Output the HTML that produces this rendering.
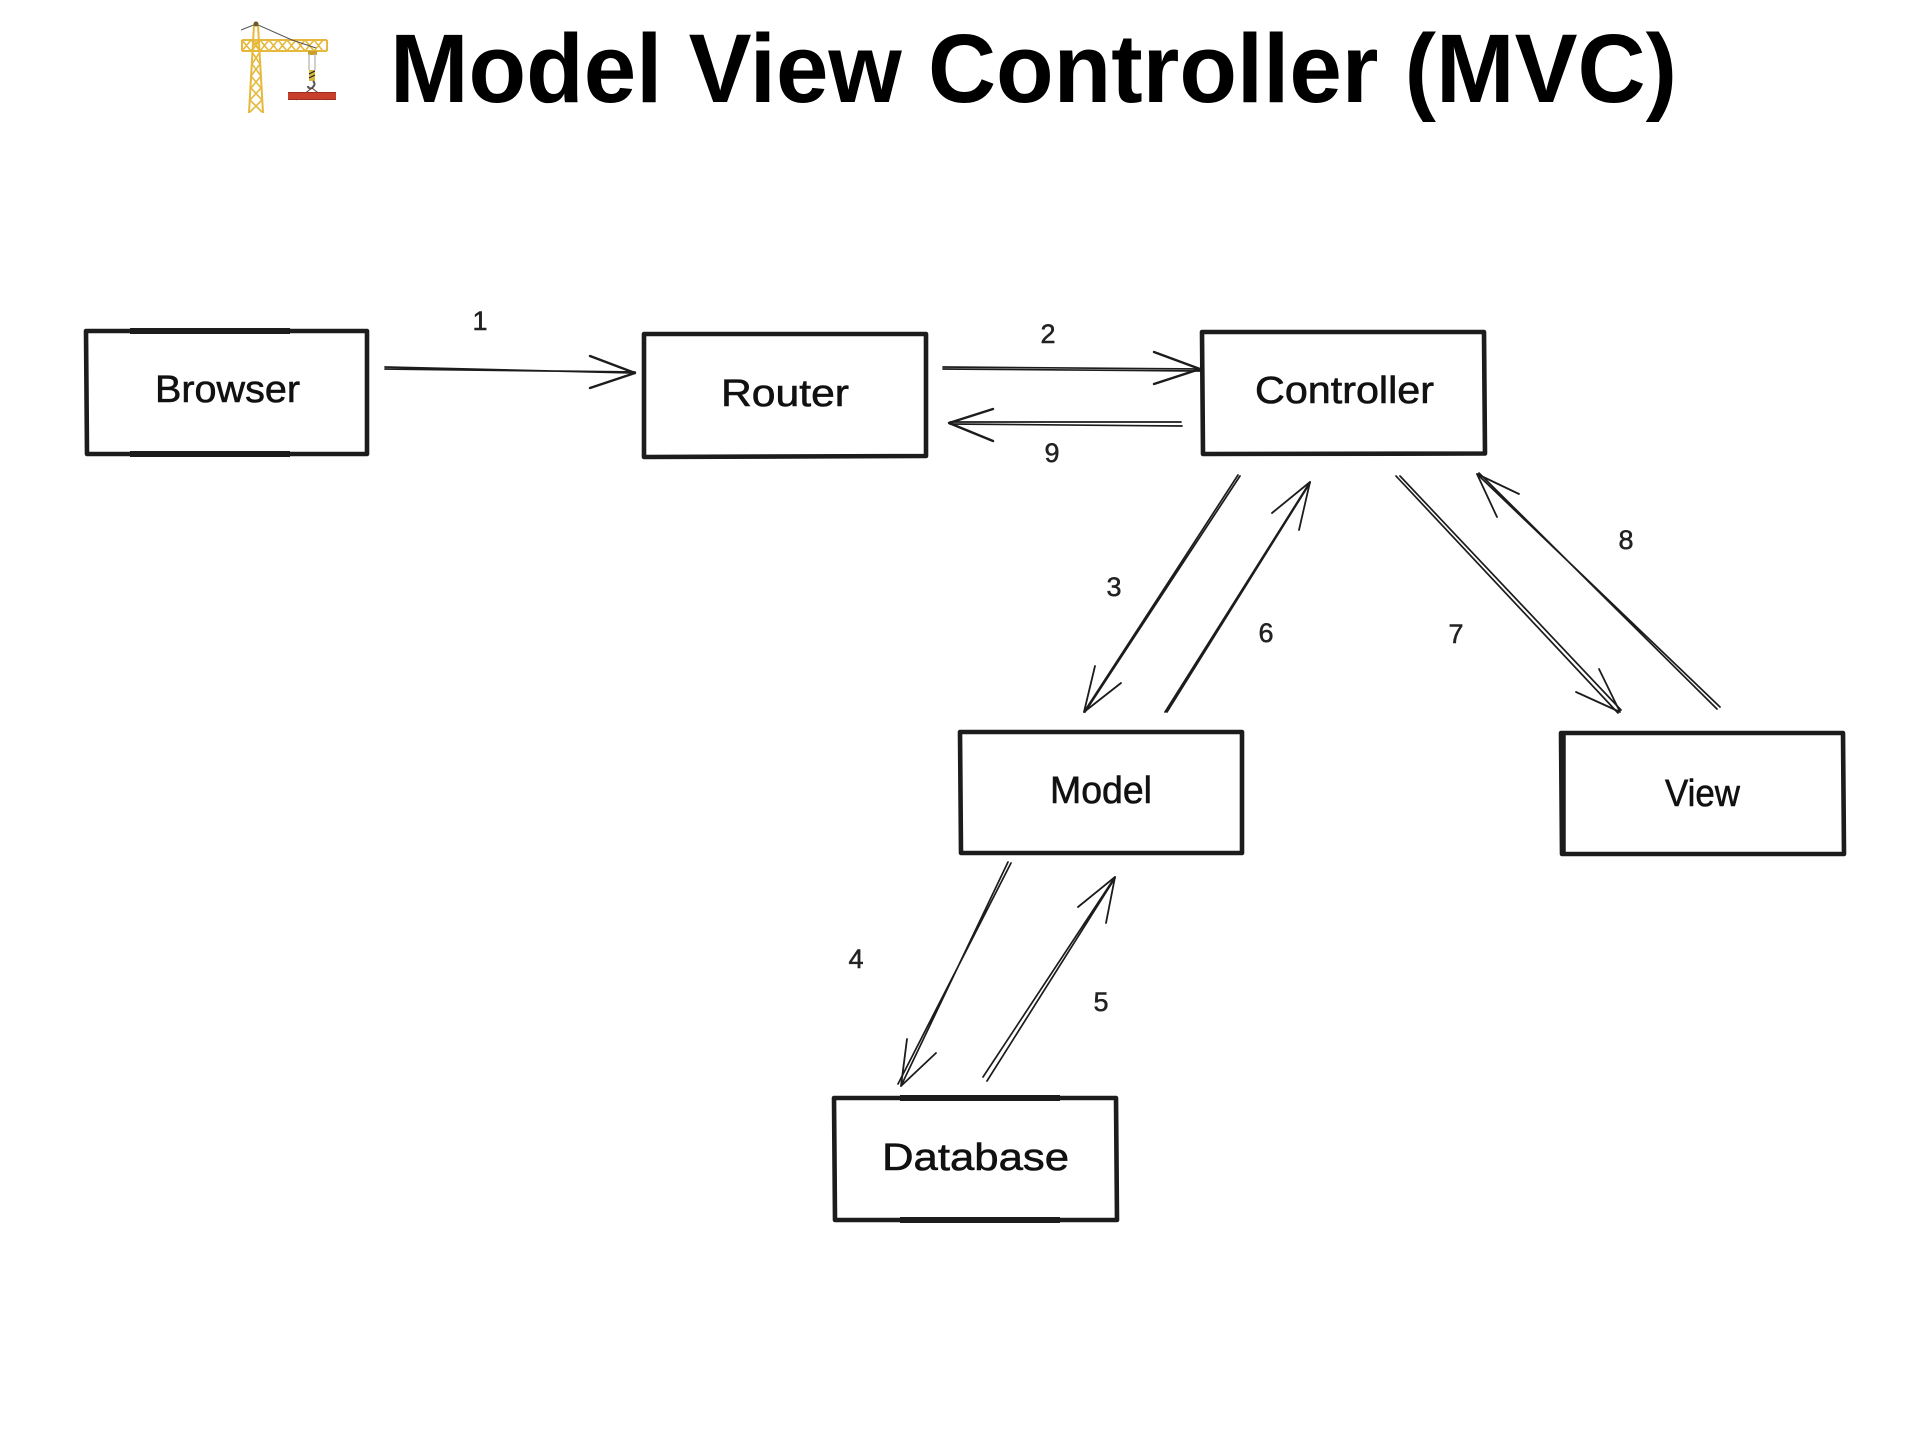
<!DOCTYPE html>
<html><head><meta charset="utf-8"><title>Model View Controller (MVC)</title>
<style>
html,body{margin:0;padding:0;background:#fff}
svg{display:block}
.b{fill:none;stroke:#1c1c1c;stroke-width:4.6;stroke-linejoin:round;stroke-linecap:round}
.l{fill:none;stroke:#1c1c1c;stroke-width:1.7;stroke-linecap:round;stroke-linejoin:round}
.h{fill:none;stroke:#1c1c1c;stroke-width:2.4;stroke-linecap:round;stroke-linejoin:round}
.t{font-family:"Liberation Sans",sans-serif;font-size:38px;fill:#111;stroke:#111;stroke-width:.6;text-anchor:start}
.n{font-family:"Liberation Sans",sans-serif;font-size:27px;fill:#222;stroke:#222;stroke-width:.5;text-anchor:middle}
</style></head><body>
<svg width="1920" height="1440" viewBox="0 0 1920 1440" xmlns="http://www.w3.org/2000/svg">
<rect width="1920" height="1440" fill="#fff"/>
<text x="390" y="102" font-family="'Liberation Sans',sans-serif" font-weight="700" font-size="97" fill="#000" textLength="1287" lengthAdjust="spacingAndGlyphs">Model View Controller (MVC)</text>

<!-- crane -->
<g fill="none" stroke="#e6b93c" stroke-width="1.6">
<path d="M249 113L254 25M263 113L258 25" stroke-width="2"/>
<path d="M250 112L262 100L251 88L261 76L252 64L260 52L254 40M262 112L250 100L261 88L251 76L260 64L252 52L258 40"/>
<path d="M242 40H327M242 51H327M242 40V51M327 40V51" stroke-width="2"/>
<path d="M242 40l9 11l9-11l9 11l9-11l9 11l9-11l9 11l9-11l9 11M242 51l9-11l9 11l9-11l9 11l9-11l9 11l9-11l9 11l9-11"/>
</g>
<path d="M241 30L256 24L292 40L316 48" fill="none" stroke="#555" stroke-width="1"/>
<circle cx="256" cy="24" r="2.5" fill="#6b5a24"/>
<rect x="308" y="51" width="9" height="4" fill="#c9a02c"/>
<path d="M309 54V70M315 54V70" stroke="#bbb" stroke-width="1.4" fill="none"/>
<rect x="309" y="70" width="6" height="11" fill="#d8b83a"/>
<path d="M309 74l6-3M309 78l6-3" stroke="#222" stroke-width="1.2"/>
<path d="M313 81c3 3 1 5-1 7c-2 1-4 0-4-2" fill="none" stroke="#555" stroke-width="2"/>
<path d="M312 88L296 100M312 88L327 100" stroke="#5a3a2a" stroke-width="1" fill="none"/>
<rect x="288" y="92" width="48" height="8" fill="#c8402c"/>
<path d="M288 92.5H336M288 99.5H336" stroke="#9c3020" stroke-width="1"/>

<!-- boxes -->
<path class="b" d="M86 331L367 331L367 454L87 454Z"/>
<path d="M130 331L290 331" stroke="#1c1c1c" stroke-width="6" fill="none"/>
<path d="M130 454L290 454" stroke="#1c1c1c" stroke-width="6" fill="none"/>
<path class="b" d="M644 334L926 334L926 456L644 457Z"/>
<path class="b" d="M1202 332L1484 332L1485 453.5L1203 454Z"/>
<path class="b" d="M960 732L1242 732L1242 853L961 853Z"/>
<path class="b" d="M1561 733L1843 733L1844 854L1562 854Z"/>
<path d="M1563 733V854" stroke="#1c1c1c" stroke-width="5.5" fill="none"/>
<path class="b" d="M834 1098L1116 1098L1117 1220L835 1220Z"/>
<path d="M900 1098L1060 1098M900 1220L1060 1220" stroke="#1c1c1c" stroke-width="6" fill="none"/>

<!-- box labels -->
<text class="t" x="155" y="402" textLength="145" lengthAdjust="spacingAndGlyphs">Browser</text>
<text class="t" x="721" y="406" textLength="128" lengthAdjust="spacingAndGlyphs">Router</text>
<text class="t" x="1255" y="403" textLength="179" lengthAdjust="spacingAndGlyphs">Controller</text>
<text class="t" x="1050" y="803" textLength="102" lengthAdjust="spacingAndGlyphs">Model</text>
<text class="t" x="1665" y="806" textLength="75" lengthAdjust="spacingAndGlyphs">View</text>
<text class="t" x="882" y="1170" textLength="187" lengthAdjust="spacingAndGlyphs">Database</text>

<!-- arrows -->
<path class="l" d="M385 367L635 373M385 369L635 372"/><path class="h" d="M590 356L635 373L590 388"/>
<path class="l" d="M943 367L1200 369M943 369L1200 371"/><path class="h" d="M1154 352L1200 369L1154 384"/>
<path class="l" d="M1181 422L950 422M1182 426L950 424"/><path class="h" d="M993 409L949 423L993 441"/>
<path class="l" d="M1238 475L1084 712M1240 476L1085 712"/><path class="h" style="stroke-width:1.8" d="M1095 666L1084 712L1121 683"/>
<path class="l" d="M1165 712L1310 482M1167 712L1310 483"/><path class="h" style="stroke-width:1.8" d="M1272 513L1310 482L1299 530"/>
<path class="l" d="M1396 476L1618 713M1400 476L1621 710"/><path class="h" style="stroke-width:1.8" d="M1599 669L1620 712L1576 692"/>
<path class="l" d="M1720 707L1477 474M1717 709L1479 473"/><path class="h" style="stroke-width:1.8" d="M1519 494L1477 474L1497 517"/>
<path class="l" d="M1011 863L898 1084M1008 862L901 1086"/><path class="h" style="stroke-width:1.8" d="M907 1039L901 1086L936 1053"/>
<path class="l" d="M983 1077L1115 877M987 1081L1115 878"/><path class="h" style="stroke-width:1.8" d="M1078 907L1115 877L1106 923"/>

<!-- number labels -->
<text class="n" x="480" y="330">1</text>
<text class="n" x="1048" y="343">2</text>
<text class="n" x="1052" y="462">9</text>
<text class="n" x="1114" y="596">3</text>
<text class="n" x="1266" y="642">6</text>
<text class="n" x="1456" y="643">7</text>
<text class="n" x="1626" y="549">8</text>
<text class="n" x="856" y="968">4</text>
<text class="n" x="1101" y="1011">5</text>
</svg>
</body></html>
